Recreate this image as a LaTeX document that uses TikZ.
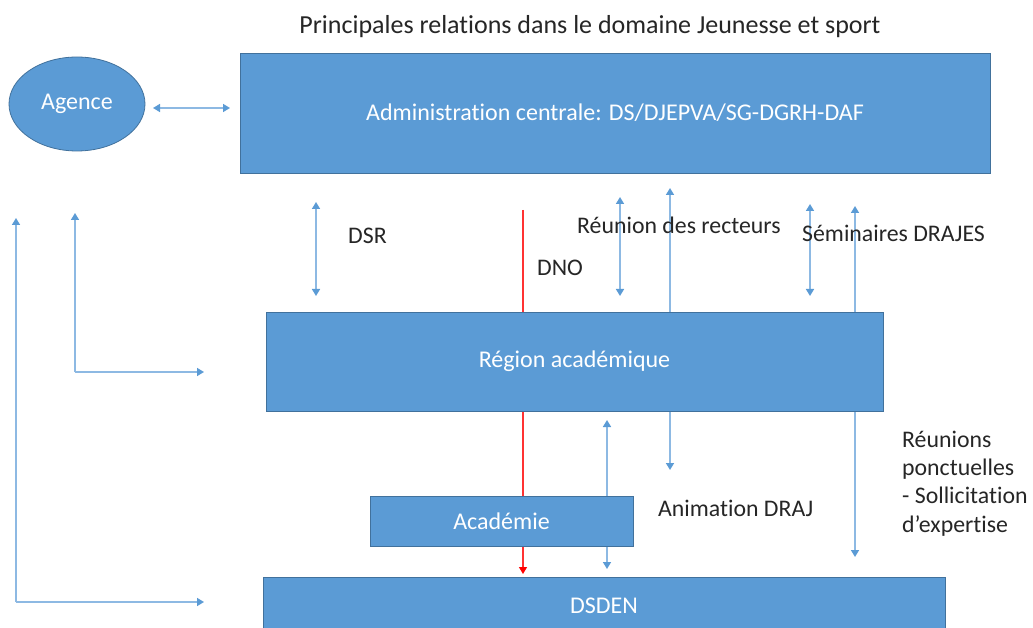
\documentclass[tikz,border=0pt]{standalone}
\usepackage{fontspec}
\setmainfont[Ligatures=NoCommon]{Carlito}
\usetikzlibrary{arrows.meta,shapes.geometric}
\definecolor{boxblue}{HTML}{5B9BD5}
\definecolor{boxedge}{HTML}{41719C}
\definecolor{lineblue}{HTML}{8DB9E3}
\definecolor{tipblue}{HTML}{5B9BD5}
\definecolor{txt}{HTML}{262626}
\tikzset{
  box/.style={draw=boxedge, line width=0.8pt, fill=boxblue, text=white, font=\fontsize{24}{28}\selectfont, inner sep=0pt},
  lab/.style={text=txt, font=\fontsize{23.8}{28.3}\selectfont, inner sep=0pt},
  tipb/.tip={Triangle[width=8pt,length=7pt,color=tipblue]},
  arr/.style={draw=lineblue, line width=1.6pt, -tipb},
  darr/.style={draw=lineblue, line width=1.6pt, tipb-tipb},
  redarr/.style={draw=red!80!white, line width=1.2pt, -{Triangle[width=8pt,length=7pt,color=red]}}
}
\begin{document}
\begin{tikzpicture}[x=1pt,y=-1pt]
\clip (0,0) rectangle (1033,628);
\fill[white] (0,0) rectangle (1033,628);
% lines drawn behind boxes
\draw[redarr] (523,210) -- (523,574);
\draw[darr] (670,188) -- (670,470);
\draw[darr] (855,206) -- (855,557);
\draw[darr] (607,420) -- (607,569);
% title
\node[lab, font=\fontsize{26}{30}\selectfont] (title) at (590,27) {Principales relations dans le domaine Jeunesse et sport};
% boxes
\node[box, minimum width=750pt, minimum height=120pt] (admin) at (615,113) {Administration centrale: DS/DJEPVA/SG-DGRH-DAF};
\node[box, ellipse, minimum width=136pt, minimum height=94pt] (agence) at (77,104) {Agence};
\node[box, minimum width=617pt, minimum height=99pt] (region) at (574.5,361.5) {Région académique};
\node[box, minimum width=263pt, minimum height=50pt] (academie) at (501.5,521.5) {Académie};
\node[box, minimum width=682pt, minimum height=58pt] (dsden) at (604,606) {DSDEN};
% connectors
\coordinate (a1) at (153,108);
\coordinate (a2) at (230,108);
\draw[darr] (a1) -- (a2);
\coordinate (c1) at (16,218);
\coordinate (c1b) at (16,602);
\coordinate (c1e) at (204,602);
\draw[arr] (c1b) -- (c1);
\draw[arr] (c1b) -- (c1e);
\coordinate (c2) at (75,213);
\coordinate (c2b) at (75,372);
\coordinate (c2e) at (204,372);
\draw[arr] (c2b) -- (c2);
\draw[arr] (c2b) -- (c2e);
\draw[darr] (316,202) -- (316,296);
\draw[darr] (620,197) -- (620,296);
\draw[darr] (810,204) -- (810,296);
% labels
\node[lab, anchor=west] (dsr) at (348,236) {DSR};
\node[lab, anchor=west] (dno) at (537,268) {DNO};
\node[lab, anchor=west] (rr) at (577,225) {Réunion des recteurs};
\node[lab, anchor=west] (sem) at (802,233) {Séminaires DRAJES};
\node[lab, anchor=west] (anim) at (658,508) {Animation DRAJ};
\node[lab, anchor=base west, align=left] (reu) at (902,532) {Réunions\\ponctuelles\\- Sollicitation\\d’expertise};
\end{tikzpicture}
\end{document}
